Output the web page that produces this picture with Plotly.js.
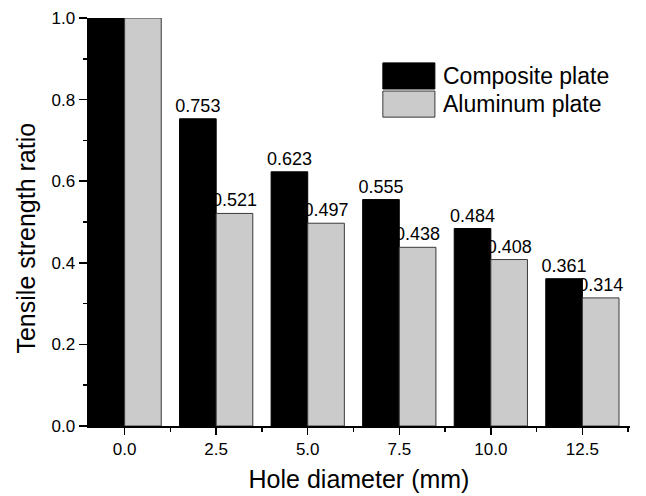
<!DOCTYPE html>
<html>
<head>
<meta charset="utf-8">
<script src="https://cdn.plot.ly/plotly-3.0.1.min.js"></script>
<style>
  html, body { margin: 0; padding: 0; background: #fff; }
  #chart { width: 646px; height: 496px; }
</style>
</head>
<body>
<div id="chart"></div>
<script>
// Hole diameters (mm) and normalised tensile strength
const holeDiameters = [0.0, 2.5, 5.0, 7.5, 10.0, 12.5];
const tickLabels = ['0.0', '2.5', '5.0', '7.5', '10.0', '12.5'];
const compositeRatio = [1.0, 0.753, 0.623, 0.555, 0.484, 0.361];
const aluminumRatio = [1.0, 0.521, 0.497, 0.438, 0.408, 0.314];
const seriesNames = ['Composite plate', 'Aluminum plate'];

const FONT = 'Liberation Sans, Arial, Helvetica, sans-serif';
const COMPOSITE_COLOR = '#000000';
const ALUMINUM_COLOR = '#cbcbcb';

// Value labels are shown on every bar except the unnotched reference (ratio 1.0)
const labelsFor = vals => vals.map(v => (v >= 1 ? '' : v.toFixed(3)));

const barText = { family: FONT, size: 18, color: '#000' };

const traces = [
  {
    type: 'bar',
    name: seriesNames[0],
    x: holeDiameters,
    y: compositeRatio,
    text: labelsFor(compositeRatio),
    textposition: 'outside',
    constraintext: 'none',
    textfont: barText,
    cliponaxis: false,
    marker: { color: COMPOSITE_COLOR, line: { color: '#000', width: 1 } },
    showlegend: false,
    hoverinfo: 'x+y'
  },
  {
    type: 'bar',
    name: seriesNames[1],
    x: holeDiameters,
    y: aluminumRatio,
    text: labelsFor(aluminumRatio),
    textposition: 'outside',
    constraintext: 'none',
    textfont: barText,
    cliponaxis: false,
    marker: { color: ALUMINUM_COLOR, line: { color: '#3a3a3a', width: 1 } },
    showlegend: false,
    hoverinfo: 'x+y'
  }
];

// Legend drawn as boxes + labels in the upper right of the plot
const legendShapes = [
  { type: 'rect', xref: 'paper', yref: 'paper', x0: 0.544, x1: 0.640, y0: 0.826, y1: 0.890,
    fillcolor: COMPOSITE_COLOR, line: { color: '#000', width: 1 } },
  { type: 'rect', xref: 'paper', yref: 'paper', x0: 0.544, x1: 0.640, y0: 0.757, y1: 0.821,
    fillcolor: ALUMINUM_COLOR, line: { color: '#3a3a3a', width: 1 } }
];
const annotations = [
  { xref: 'paper', yref: 'paper', x: 0.652, y: 0.858, xanchor: 'left', yanchor: 'middle',
    text: seriesNames[0], showarrow: false, font: { family: FONT, size: 23, color: '#000' } },
  { xref: 'paper', yref: 'paper', x: 0.652, y: 0.789, xanchor: 'left', yanchor: 'middle',
    text: seriesNames[1], showarrow: false, font: { family: FONT, size: 23, color: '#000' } },
  // y-axis title, set slightly below the axis midpoint
  { xref: 'paper', yref: 'paper', x: -0.114, y: 0.46, xanchor: 'center', yanchor: 'middle',
    textangle: -90, text: 'Tensile strength ratio', showarrow: false,
    font: { family: FONT, size: 25, color: '#000' } }
];

const layout = {
  width: 646,
  height: 496,
  margin: { l: 88, r: 16, t: 18, b: 70 },
  paper_bgcolor: '#fff',
  plot_bgcolor: '#fff',
  font: { family: FONT, size: 17, color: '#000' },
  barmode: 'group',
  bargap: 0.2,
  bargroupgap: 0,
  showlegend: false,
  xaxis: {
    range: [-1, 13.8],
    tickvals: holeDiameters,
    ticktext: tickLabels,
    ticks: 'outside',
    ticklen: 7,
    tickwidth: 1.5,
    tickcolor: '#000',
    minor: { dtick: 1.25, tick0: 0, ticks: 'outside', ticklen: 4, tickwidth: 1.5, tickcolor: '#000', showgrid: false },
    showline: true,
    linecolor: '#000',
    linewidth: 1.5,
    showgrid: false,
    zeroline: false,
    tickfont: { family: FONT, size: 17 },
    title: { text: 'Hole diameter (mm)', font: { family: FONT, size: 25 }, standoff: 12 }
  },
  yaxis: {
    range: [0, 1.0],
    dtick: 0.2,
    tick0: 0,
    tickformat: '.1f',
    ticks: 'outside',
    ticklen: 8,
    tickwidth: 1.5,
    tickcolor: '#000',
    minor: { dtick: 0.1, ticks: 'outside', ticklen: 4, tickwidth: 1.5, tickcolor: '#000', showgrid: false },
    showline: true,
    linecolor: '#000',
    linewidth: 1.5,
    showgrid: false,
    zeroline: false,
    tickfont: { family: FONT, size: 17 }
  },
  shapes: legendShapes,
  annotations: annotations
};

Plotly.newPlot('chart', traces, layout, { displayModeBar: false, staticPlot: true });
</script>
</body>
</html>
